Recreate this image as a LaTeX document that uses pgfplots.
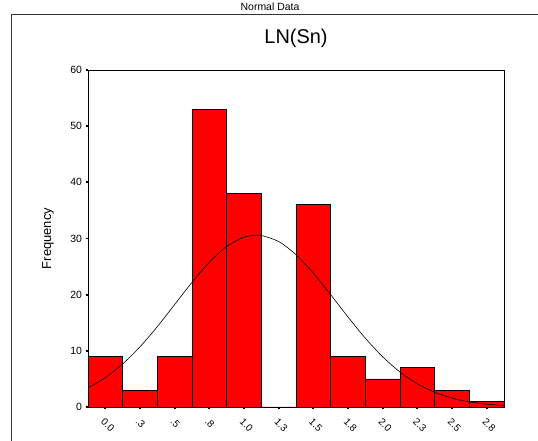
\documentclass[border=0pt]{standalone}
\usepackage{pgfplots}
\pgfplotsset{compat=1.18}
\usepackage{fontspec}
\setmainfont{Liberation Sans}
\begin{document}
\begin{tikzpicture}[x=1bp,y=1bp]
\useasboundingbox (0,0) rectangle (538,441);
\draw[line width=0.8bp,black!80] (11,0) -- (11,427) -- (538,427);
\node[font=\fontsize{10.5}{12}\selectfont] at (270,434) {Normal Data};
\begin{axis}[
  at={(88bp,34bp)}, anchor=south west,
  width=416bp, height=337bp, scale only axis,
  xmin=-0.125, xmax=2.875, ymin=0, ymax=60,
  ytick={0,10,...,60},
  xtick={0,0.25,...,2.75},
  xtick pos=bottom, ytick pos=left,
  xticklabels={0.0,.3,.5,.8,1.0,1.3,1.5,1.8,2.0,2.3,2.5,2.8},
  xticklabel style={rotate=-45, anchor=north west, font=\fontsize{10}{12}\selectfont, xshift=2bp, yshift=-2bp},
  yticklabel style={font=\fontsize{10.5}{12}\selectfont},
  /pgf/number format/assume math mode=true,
  tick align=outside, major tick length=2.5bp,
  tick style={black, line width=1.8bp},
  axis line style={black, line width=0.8bp},
  ylabel={Frequency},
  ylabel style={font=\fontsize{13}{15}\selectfont, at={(axis description cs:-0.096,0.5)}, anchor=center},
  title={LN(Sn)},
  title style={font=\fontsize{20}{24}\selectfont, at={(axis description cs:0.5,1)}, anchor=center, yshift=26bp},
]
\addplot[ybar interval, fill=red, draw=black, line width=0.6bp] coordinates {
(-0.125,9) (0.125,3) (0.375,9) (0.625,53) (0.875,38) (1.125,0) (1.375,36) (1.625,9) (1.875,5) (2.125,7) (2.375,3) (2.625,1) (2.875,1)
};
\addplot[black, smooth, line width=0.6bp, mark=none] coordinates {
(-0.125,3.41) (0,5.23) (0.125,7.67) (0.25,10.72) (0.375,14.31) (0.5,18.25) (0.625,22.19) (0.75,25.77) (0.875,28.57) (1.0,30.23) (1.09,30.6) (1.125,30.55) (1.25,29.46) (1.375,27.12) (1.5,23.83) (1.625,20.0) (1.75,16.02) (1.875,12.25) (2.0,8.94) (2.125,6.23) (2.25,4.14) (2.375,2.63) (2.5,1.59) (2.625,0.92) (2.75,0.51) (2.875,0.27)
};
\end{axis}
\end{tikzpicture}
\end{document}
